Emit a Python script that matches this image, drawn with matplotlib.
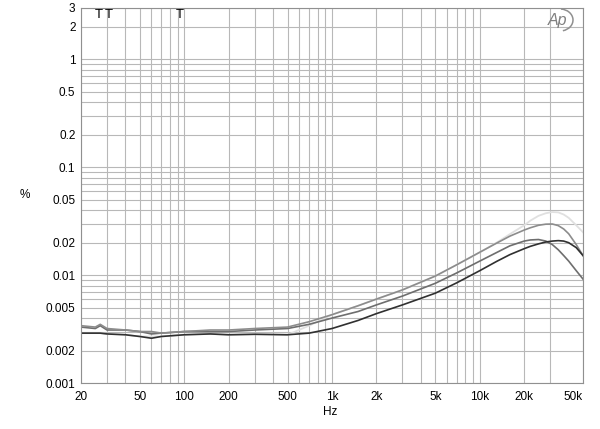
import matplotlib
matplotlib.use("Agg")
import matplotlib.pyplot as plt
from matplotlib.ticker import FixedLocator, NullFormatter
from matplotlib.patches import Arc

plt.rcParams['font.family'] = ['Liberation Sans', 'DejaVu Sans']

freq = [20, 25, 27, 30, 40, 50, 60, 70, 100, 150, 200, 300, 500, 700,
        1000, 1500, 2000, 3000, 5000, 7000, 10000, 13000, 16000, 20000, 22000,
        25000, 28000, 31000, 34000, 37000, 40000, 45000, 50000]

dist_a = [0.0029, 0.0029, 0.0029, 0.00285, 0.0028, 0.0027, 0.0026, 0.0027, 0.0028, 0.00285,
          0.0028, 0.00283, 0.0028, 0.0029, 0.0032, 0.0038, 0.0044, 0.0053, 0.0068, 0.0085,
          0.0110, 0.0134, 0.0155, 0.0176, 0.0185, 0.0195, 0.0203, 0.0207, 0.0209, 0.0207,
          0.0200, 0.0180, 0.0152]
dist_b = [0.0033, 0.0032, 0.0034, 0.0031, 0.0031, 0.0030, 0.00285, 0.0029, 0.0030, 0.0030,
          0.0030, 0.0031, 0.0032, 0.0035, 0.0040, 0.0046, 0.0053, 0.0064, 0.0084, 0.0105,
          0.0135, 0.0162, 0.0187, 0.0207, 0.0212, 0.0214, 0.0207, 0.0192, 0.0172, 0.0152,
          0.0135, 0.0110, 0.0092]
dist_c = [0.0034, 0.0033, 0.0035, 0.0032, 0.0031, 0.0030, 0.0030, 0.0029, 0.0030, 0.0031,
          0.0031, 0.0032, 0.0033, 0.0037, 0.0043, 0.0052, 0.0060, 0.0073, 0.0098, 0.0125,
          0.0163, 0.0198, 0.0230, 0.0262, 0.0275, 0.0290, 0.0297, 0.0298, 0.0288, 0.0268,
          0.0242, 0.0192, 0.0152]
dist_d = [0.0029, 0.0029, 0.0029, 0.00285, 0.0028, 0.0027, 0.0027, 0.0027, 0.0028, 0.00285,
          0.0028, 0.00283, 0.0028, 0.0034, 0.0043, 0.0052, 0.0060, 0.0073, 0.0098, 0.0125,
          0.0163, 0.0200, 0.0240, 0.0290, 0.0320, 0.0355, 0.0375, 0.0385, 0.0382, 0.0365,
          0.0340, 0.0290, 0.0250]

xtick_vals = [20, 50, 100, 200, 500, 1000, 2000, 5000, 10000, 20000, 50000]
xtick_labels = ['20', '50', '100', '200', '500', '1k', '2k', '5k', '10k', '20k', '50k']
ytick_vals = [0.001, 0.002, 0.005, 0.01, 0.02, 0.05, 0.1, 0.2, 0.5, 1, 2, 3]
ytick_labels = ['0.001', '0.002', '0.005', '0.01', '0.02', '0.05', '0.1', '0.2', '0.5', '1', '2', '3']
t_marks = [26.5, 31, 93]

fig = plt.figure(figsize=(6.0, 4.29), dpi=100)
ax = fig.add_axes([81/600, 1-383/429, (583-81)/600, (383-8)/429])
ax.set_xscale('log')
ax.set_yscale('log')
ax.set_xlim(20, 50000)
ax.set_ylim(0.001, 3)

grid_c = '#b8b8b8'
xminor = []
for dec in [10, 100, 1000, 10000]:
    for m in range(1, 10):
        v = m * dec
        if 20 <= v <= 50000 and v not in xtick_vals and v != 40000:
            xminor.append(v)
yminor = []
for dec in [0.001, 0.01, 0.1, 1]:
    for m in range(1, 10):
        v = m * dec
        if v <= 3 and not any(abs(v - t) < 1e-9 for t in ytick_vals):
            yminor.append(v)
ax.xaxis.set_major_locator(FixedLocator(xtick_vals))
ax.xaxis.set_minor_locator(FixedLocator(xminor))
ax.yaxis.set_major_locator(FixedLocator(ytick_vals))
ax.yaxis.set_minor_locator(FixedLocator(yminor))
ax.xaxis.set_minor_formatter(NullFormatter())
ax.yaxis.set_minor_formatter(NullFormatter())
ax.set_xticklabels(xtick_labels)
ax.set_yticklabels(ytick_labels)
ax.grid(True, which='both', color=grid_c, linewidth=0.8)
ax.set_axisbelow(True)
ax.tick_params(which='both', length=0, labelsize=8.5, colors='black')
ax.tick_params(axis='x', pad=6)
ax.tick_params(axis='y', pad=4)
for lab in ax.get_xticklabels():
    if lab.get_text() == '50k':
        lab.set_horizontalalignment('right')
for s in ax.spines.values():
    s.set_color('#909090')
    s.set_linewidth(0.8)

ax.plot(freq, dist_d, color='#e0e0e0', lw=1.3)
ax.plot(freq, dist_b, color='#6e6e6e', lw=1.2)
ax.plot(freq, dist_c, color='#8c8c8c', lw=1.2)
ax.plot(freq, dist_a, color='#303030', lw=1.2)

tr = ax.get_xaxis_transform()
for f in t_marks:
    ax.text(f, 0.998, 'T', transform=tr, ha='center', va='top', fontsize=9.5, color='black')

fig.text(25/600, 1-195/429, '%', ha='center', va='center', fontsize=8.5)
fig.text(330/600, 1-412/429, 'Hz', ha='center', va='center', fontsize=8.5)

# Ap logo
fig.text(558/600, 1-21/429, 'Ap', ha='center', va='center', fontsize=11.5,
         style='italic', color='#808080')
logo = Arc((560, 429-20), 26, 22, theta1=-75, theta2=85, transform=None,
           color='#909090', lw=1.1)
fig.patches.append(logo)

fig.savefig('out.png', dpi=100)
